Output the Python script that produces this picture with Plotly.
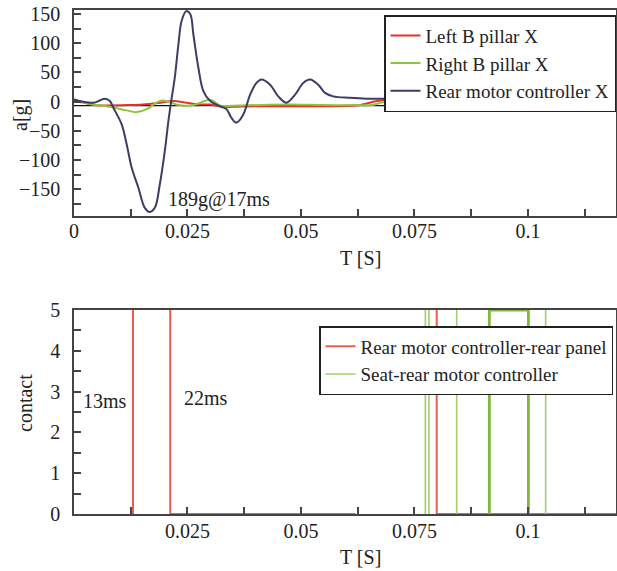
import plotly.graph_objects as go

# ---------------- data ----------------
# Top panel: acceleration [g] vs time [s]
rear_t = [0, 0.0028, 0.0043, 0.0057, 0.0068, 0.0079, 0.0087, 0.0105, 0.0116, 0.0127,
          0.0142, 0.0156, 0.0167, 0.0178, 0.0189, 0.0200, 0.0208, 0.0214, 0.0222, 0.0230,
          0.0237, 0.0247, 0.0256, 0.0263, 0.0274, 0.0285, 0.0300, 0.0322, 0.0336, 0.0347,
          0.0358, 0.0373, 0.0388, 0.0402, 0.0413, 0.0432, 0.0450, 0.0468, 0.0487, 0.0505,
          0.0520, 0.0538, 0.0553, 0.0571, 0.0608, 0.0645, 0.0681, 0.0718, 0.0755, 0.0799,
          0.0843, 0.0902, 0.0938, 0.0975, 0.1012, 0.1041, 0.1070, 0.1100, 0.1129, 0.1194]
rear_a = [3, -1, -2, 2, 5, 1, -11, -39, -73, -113,
          -148, -182, -189, -182, -142, -85, -33, 0, 41, 98,
          138, 155, 150, 115, 58, 18, 1, -8, -13, -28,
          -36, -22, 12, 32, 38, 29, 9, -2, 12, 32,
          38, 29, 15, 9, 6.5, 5, 5, 6.5, 1, -4,
          -1, 1, 1, -2, -5, -5, -5, -2, 2, 2]

left_t = [0, 0.0043, 0.0079, 0.0116, 0.0152, 0.0189, 0.0218, 0.0248, 0.0277, 0.0300,
          0.0328, 0.0350, 0.0400, 0.0498, 0.0571, 0.0630, 0.0667, 0.0718, 0.0755, 0.0799,
          0.0843, 0.0902, 0.0975, 0.1048, 0.1100, 0.1194]
left_a = [4, -6, -6.5, -6, -5, -2, 1, -2, -5, -5,
          -9, -9, -8, -8, -8, -6, 1, 3, 1, -4,
          -2, 1, 1, -1, 2, 2.5]

right_t = [0, 0.0043, 0.0079, 0.0116, 0.0138, 0.0160, 0.0175, 0.0193, 0.0211, 0.0230,
           0.0263, 0.0300, 0.0322, 0.0366, 0.0476, 0.0548, 0.0623, 0.0656, 0.0681, 0.0755,
           0.0850, 0.1000, 0.1194]
right_a = [1, -5, -9, -15, -18, -13, -5, 2, -1, -6,
           -6, 3, -6.5, -6.5, -5, -6, -6, -6, -1, 1.5,
           2.5, 3, 4.5]

# Bottom panel: contact signals
panel_t = [0.013, 0.013, None, 0.0212, 0.0212, 0.062, None, 0.0799, 0.0799, 0.12]
panel_c = [0, 5, None, 5, 0, 0, None, 5, 0, 0]
seat_thin_t = [0.0774, 0.0774, None, 0.0782, 0.0782, None, 0.0843, 0.0843, None, 0.1039, 0.1039]
seat_thin_c = [0, 5, None, 5, 0, None, 0, 5, None, 5, 0]
seat_thick_t = [0.0915, 0.0915, 0.1001, 0.1001]
seat_thick_c = [0, 5, 5, 0]

top_xticks = [0, 0.025, 0.05, 0.075, 0.1]
top_xtext = ["0", "0.025", "0.05", "0.075", "0.1"]
bot_xticks = [0.025, 0.05, 0.075, 0.1]
bot_xtext = ["0.025", "0.05", "0.075", "0.1"]
top_yticks = [150, 100, 50, 0, -50, -100, -150]
top_ytext = ["150", "100", "50", "0", "\u221250", "\u2212100", "\u2212150"]
bot_yticks = [0, 1, 2, 3, 4, 5]

# ---------------- figure ----------------
FONT = "Liberation Serif"
FS = 20
LFS = 19
RED = "#e3342b"
GREEN = "#8cc63f"
NAVY = "#3d3d66"
AX = "#444444"

fig = go.Figure()
fig.add_trace(go.Scatter(x=left_t, y=left_a, name="Left B pillar X", mode="lines",
                         line=dict(color=RED, width=2, shape="spline"),
                         xaxis="x", yaxis="y", legend="legend"))
fig.add_trace(go.Scatter(x=right_t, y=right_a, name="Right B pillar X", mode="lines",
                         line=dict(color=GREEN, width=2, shape="spline"),
                         xaxis="x", yaxis="y", legend="legend"))
fig.add_trace(go.Scatter(x=rear_t, y=rear_a, name="Rear motor controller X", mode="lines",
                         line=dict(color=NAVY, width=2, shape="spline"),
                         xaxis="x", yaxis="y", legend="legend"))

fig.add_trace(go.Scatter(x=panel_t, y=panel_c, name="Rear motor controller-rear panel",
                         mode="lines", line=dict(color="#e8604c", width=2),
                         xaxis="x2", yaxis="y2", legend="legend2"))
fig.add_trace(go.Scatter(x=seat_thin_t, y=seat_thin_c, name="Seat-rear motor controller",
                         mode="lines", line=dict(color="#9fd067", width=1.6),
                         legendgroup="seat", xaxis="x2", yaxis="y2", legend="legend2"))
fig.add_trace(go.Scatter(x=seat_thick_t, y=seat_thick_c, name="Seat-rear motor controller",
                         mode="lines", line=dict(color="#7fb83a", width=2.8),
                         legendgroup="seat", showlegend=False,
                         xaxis="x2", yaxis="y2", legend="legend2"))

axis_common = dict(showline=True, linecolor=AX, linewidth=1.5, mirror=True,
                   ticks="inside", ticklen=7, tickcolor=AX, tickwidth=1.5,
                   showgrid=False, zeroline=False, automargin=False,
                   tickfont=dict(family=FONT, size=FS, color="#222"))
minor_common = dict(ticks="inside", ticklen=7, tickcolor=AX, tickwidth=1.5)

fig.update_layout(
    width=617, height=571,
    margin=dict(l=74, r=1, t=10, b=57, autoexpand=False),
    paper_bgcolor="white", plot_bgcolor="white",
    font=dict(family=FONT, size=FS, color="#222"),
    xaxis=dict(domain=[0, 1], anchor="y", range=[0, 0.1194],
               tickvals=top_xticks, ticktext=top_xtext, ticklabelstandoff=-4,
               minor=dict(dtick=0.0125, tick0=0, **minor_common),
               **axis_common),
    yaxis=dict(domain=[0.5913, 1], anchor="x", range=[-196, 157],
               tickvals=top_yticks, ticktext=top_ytext, ticklabelstandoff=8,
               minor=dict(dtick=25, tick0=0, **minor_common),
               **axis_common),
    xaxis2=dict(domain=[0, 1], anchor="y2", range=[0, 0.1194],
                tickvals=bot_xticks, ticktext=bot_xtext, ticklabelstandoff=-2,
                minor=dict(dtick=0.0125, tick0=0, **minor_common),
                **axis_common),
    yaxis2=dict(domain=[0, 0.4048], anchor="x2", range=[0, 5],
                tickvals=bot_yticks, ticklabelstandoff=8,
                minor=dict(dtick=0.5, tick0=0, **minor_common),
                **axis_common),
    legend=dict(x=1, y=0.99, xanchor="right", yanchor="top",
                bordercolor="#222", borderwidth=1.5, bgcolor="white",
                font=dict(family=FONT, size=LFS, color="#222"),
                itemwidth=30, tracegroupgap=0),
    legend2=dict(x=0.9945, y=0.373, xanchor="right", yanchor="top",
                 bordercolor="#222", borderwidth=1.5, bgcolor="white",
                 font=dict(family=FONT, size=LFS, color="#222"),
                 itemwidth=30, tracegroupgap=0),
    showlegend=True,
)

# reference line in the top panel
fig.add_shape(type="line", xref="x domain", yref="y", x0=0, x1=1, y0=-7, y1=-7,
              line=dict(color="#111", width=1.2), layer="below")

# annotations
fig.add_annotation(x=0.0203, y=-168, xref="x", yref="y", text="189g@17ms",
                   showarrow=False, xanchor="left", font=dict(family=FONT, size=FS))
fig.add_annotation(x=0.0016, y=2.78, xref="x2", yref="y2", text="13ms",
                   showarrow=False, xanchor="left", font=dict(family=FONT, size=FS))
fig.add_annotation(x=0.0238, y=2.85, xref="x2", yref="y2", text="22ms",
                   showarrow=False, xanchor="left", font=dict(family=FONT, size=FS))

# axis titles (placed as in the reference)
title_kw = dict(xref="paper", yref="paper", showarrow=False, xanchor="center",
                yanchor="middle", font=dict(family=FONT, size=FS))
fig.add_annotation(x=-54 / 542, y=(514 - 115) / 504, text="a[g]", textangle=-90, **title_kw)
fig.add_annotation(x=(360 - 74) / 542, y=(514 - 258) / 504, text="T [S]", **title_kw)
fig.add_annotation(x=-49 / 542, y=(514 - 403) / 504, text="contact", textangle=-90, **title_kw)
fig.add_annotation(x=(360 - 74) / 542, y=(514 - 557) / 504, text="T [S]", **title_kw)

fig.write_html("out.html", config={"displayModeBar": False},
               post_script="document.body.style.margin='0';document.body.style.padding='0';")
